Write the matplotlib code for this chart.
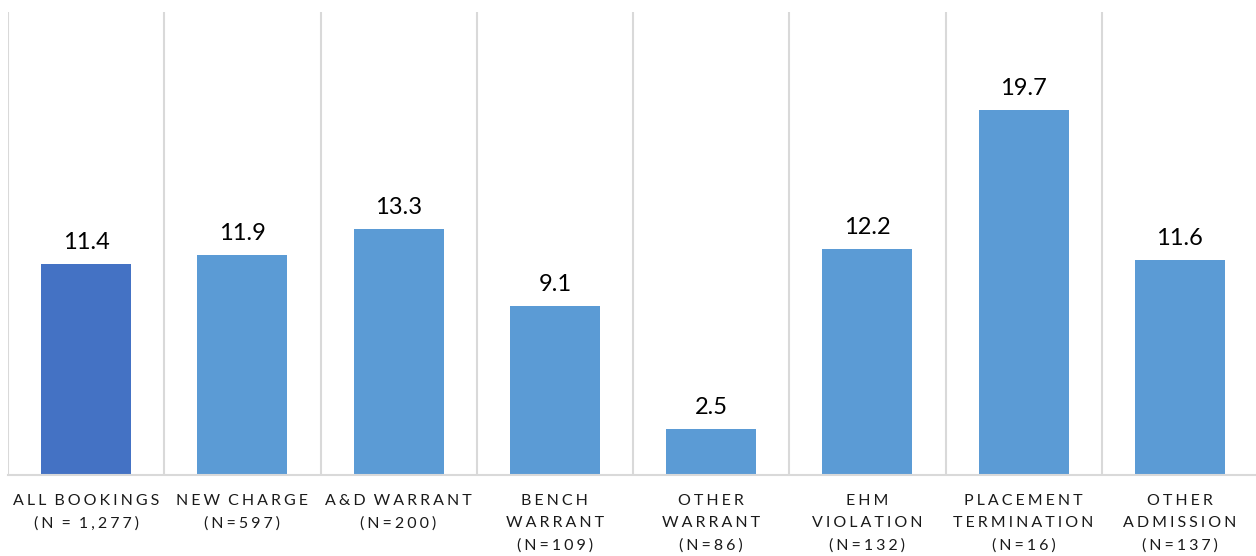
import matplotlib

matplotlib.use("Agg")
import matplotlib.pyplot as plt

plt.rcParams["font.family"] = ["Lato", "DejaVu Sans"]

categories = [
    ["ALL BOOKINGS", "(N = 1,277)"],
    ["NEW CHARGE", "(N=597)"],
    ["A&D WARRANT", "(N=200)"],
    ["BENCH", "WARRANT", "(N=109)"],
    ["OTHER", "WARRANT", "(N=86)"],
    ["EHM", "VIOLATION", "(N=132)"],
    ["PLACEMENT", "TERMINATION", "(N=16)"],
    ["OTHER", "ADMISSION", "(N=137)"],
]
values = [11.4, 11.9, 13.3, 9.1, 2.5, 12.2, 19.7, 11.6]
colors = ["#4472C4"] + ["#5B9BD5"] * 7

GAP = "\u2009\u200a"


def spaced(line):
    # mimic the wide letter spacing of the original labels
    return GAP.join(ch if ch != " " else "\u2009" for ch in line)


W, H = 12.56, 5.56
fig = plt.figure(figsize=(W, H), dpi=100)
ax = fig.add_axes([8 / 1256, 1 - 475 / 556, 1250 / 1256, 463 / 556])

x = list(range(len(values)))
bars = ax.bar(x, values, width=0.575, color=colors, zorder=2)

for xi, v in zip(x, values):
    ax.annotate(f"{v}", (xi, v), xytext=(0, 8), textcoords="offset points",
                ha="center", va="bottom", fontsize=17, color="#000000")

ax.set_xlim(-0.5, len(values) - 0.5)
ax.set_ylim(0, 25)

# vertical separators between categories
for b in range(len(values) + 1):
    ax.axvline(b - 0.5, color="#D9D9D9", linewidth=1.5, zorder=1)

for s in ["top", "right", "left"]:
    ax.spines[s].set_visible(False)
ax.spines["bottom"].set_color("#D9D9D9")
ax.spines["bottom"].set_linewidth(1.5)
ax.set_yticks([])
ax.set_xticks(x)
ax.set_xticklabels(["\n".join(spaced(l) for l in c) for c in categories],
                   fontsize=11.5, color="#1a1a1a", linespacing=1.7, va="top")
ax.tick_params(axis="x", length=0, pad=14)

fig.savefig("out.png", dpi=100)
